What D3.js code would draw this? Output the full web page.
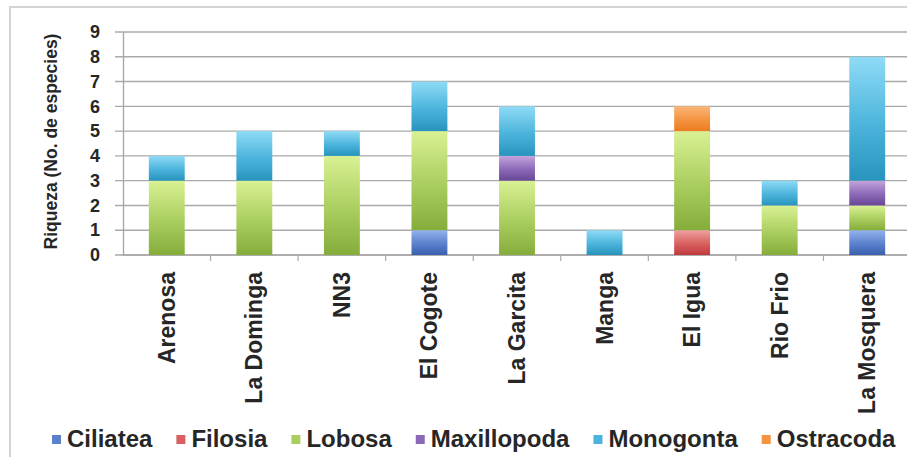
<!DOCTYPE html>
<html>
<head>
<meta charset="utf-8">
<script src="https://cdn.jsdelivr.net/npm/d3@7"></script>
<style>
  html, body { margin: 0; padding: 0; background: #fff; }
  svg { display: block; font-family: "Liberation Sans", Arial, sans-serif; }
</style>
</head>
<body>
<svg id="chart" width="907" height="457"></svg>
<script>
// ---- data ----
const categories = ["Arenosa", "La Dominga", "NN3", "El Cogote", "La Garcita", "Manga", "El Igua", "Rio Frio", "La Mosquera"];
const seriesNames = ["Ciliatea", "Filosia", "Lobosa", "Maxillopoda", "Monogonta", "Ostracoda"];
const ciliatea    = [0, 0, 0, 1, 0, 0, 0, 0, 1];
const filosia     = [0, 0, 0, 0, 0, 0, 1, 0, 0];
const lobosa      = [3, 3, 4, 4, 3, 0, 4, 2, 1];
const maxillopoda = [0, 0, 0, 0, 1, 0, 0, 0, 1];
const monogonta   = [1, 2, 1, 2, 2, 1, 0, 1, 5];
const ostracoda   = [0, 0, 0, 0, 0, 0, 1, 0, 0];
const yTicks = [0, 1, 2, 3, 4, 5, 6, 7, 8, 9];
const yTitle = "Riqueza (No. de especies)";

// colours per series: [top, mid, bottom]
const colors = {
  "Ciliatea":    ["#93b3ee", "#5b80cc", "#3a5fae"],
  "Filosia":     ["#f0a0a0", "#d86060", "#bf3a3c"],
  "Lobosa":      ["#d9f193", "#a9cd5e", "#85ad3a"],
  "Maxillopoda": ["#c4a4dc", "#8c68b8", "#674795"],
  "Monogonta":   ["#8fdbf6", "#4cb4dc", "#2794bd"],
  "Ostracoda":   ["#fbb676", "#f49440", "#ec7a20"]
};

const seriesValues = [ciliatea, filosia, lobosa, maxillopoda, monogonta, ostracoda];
const table = categories.map((c, i) => {
  const row = { cat: c };
  seriesNames.forEach((s, j) => row[s] = seriesValues[j][i]);
  return row;
});

const svg = d3.select("#chart");
const font = '"Liberation Sans", Arial, sans-serif';
const textColor = "#262626";

// chart border
svg.append("rect").attr("x", 10).attr("y", 7).attr("width", 905).attr("height", 460)
  .attr("fill", "#fff").attr("stroke", "#d4d4d4").attr("stroke-width", 2);

// gradients
const defs = svg.append("defs");
seriesNames.forEach((s, i) => {
  const g = defs.append("linearGradient").attr("id", "grad" + i)
    .attr("x1", 0).attr("y1", 0).attr("x2", 0).attr("y2", 1);
  g.append("stop").attr("offset", "0%").attr("stop-color", colors[s][0]);
  g.append("stop").attr("offset", "55%").attr("stop-color", colors[s][1]);
  g.append("stop").attr("offset", "100%").attr("stop-color", colors[s][2]);
});

// scales
const x = d3.scaleBand().domain(categories).range([123, 911]).paddingInner(0.59).paddingOuter(0.295);
const y = d3.scaleLinear().domain([0, 9]).range([255, 32]);

// gridlines
svg.append("g").selectAll("line").data(yTicks).join("line")
  .attr("x1", 115).attr("x2", 907)
  .attr("y1", d => y(d)).attr("y2", d => y(d))
  .attr("stroke", "#a9a9a9").attr("stroke-width", 1.4);

// y axis
const yAxis = svg.append("g").attr("transform", "translate(123,0)")
  .call(d3.axisLeft(y).tickValues(yTicks).tickSize(0).tickPadding(23).tickFormat(d3.format("d")));
yAxis.select(".domain").attr("stroke", "#a9a9a9").attr("stroke-width", 1.4);
yAxis.selectAll("text").attr("font-family", font).attr("font-size", 18).attr("font-weight", "bold").attr("fill", textColor);

// y title
svg.append("text")
  .attr("transform", `translate(51,${(y(0) + y(9)) / 2 - 2}) rotate(-90)`)
  .attr("text-anchor", "middle").attr("dominant-baseline", "central")
  .attr("font-family", font).attr("font-size", 17.5).attr("font-weight", "bold").attr("fill", textColor)
  .text(yTitle);

// x axis
const xAxisG = svg.append("g").attr("transform", `translate(0,${y(0)})`);
xAxisG.append("line").attr("x1", 123).attr("x2", 907).attr("y1", 0).attr("y2", 0)
  .attr("stroke", "#a9a9a9").attr("stroke-width", 1.4);
const boundaries = categories.map((c, i) => x(c) - x.step() * x.paddingInner() / 2 + x.step()).slice(0, -1);
xAxisG.selectAll("line.tick").data(boundaries).join("line").attr("class", "tick")
  .attr("x1", d => d).attr("x2", d => d).attr("y1", 0).attr("y2", 6)
  .attr("stroke", "#a9a9a9").attr("stroke-width", 1.2);
xAxisG.selectAll("text").data(categories).join("text")
  .attr("transform", d => `translate(${x(d) + x.bandwidth() / 2},17) rotate(-90)`)
  .attr("text-anchor", "end").attr("dominant-baseline", "central")
  .attr("font-family", font).attr("font-size", 23).attr("font-weight", "bold").attr("fill", textColor)
  .text(d => d);

// stacked bars
const stacked = d3.stack().keys(seriesNames)(table);
svg.append("g").selectAll("g").data(stacked).join("g")
  .attr("fill", (d, i) => `url(#grad${i})`)
  .selectAll("rect").data(d => d.filter(p => p[1] - p[0] > 0)).join("rect")
  .attr("x", d => x(d.data.cat))
  .attr("width", x.bandwidth())
  .attr("y", d => y(d[1]))
  .attr("height", d => y(d[0]) - y(d[1]));

// legend
const legend = svg.append("g").attr("transform", "translate(52,438)");
let lx = 0;
seriesNames.forEach((s, i) => {
  const g = legend.append("g").attr("transform", `translate(${lx},0)`);
  g.append("rect").attr("x", 0).attr("y", -3).attr("width", 9).attr("height", 9).attr("fill", colors[s][1]);
  const t = g.append("text").attr("x", 15).attr("y", 0).attr("dominant-baseline", "central")
    .attr("font-family", font).attr("font-size", 24).attr("font-weight", "bold").attr("fill", textColor)
    .text(s);
  const w = t.node().getComputedTextLength();
  lx += 15 + w + 24;
});
</script>
</body>
</html>
